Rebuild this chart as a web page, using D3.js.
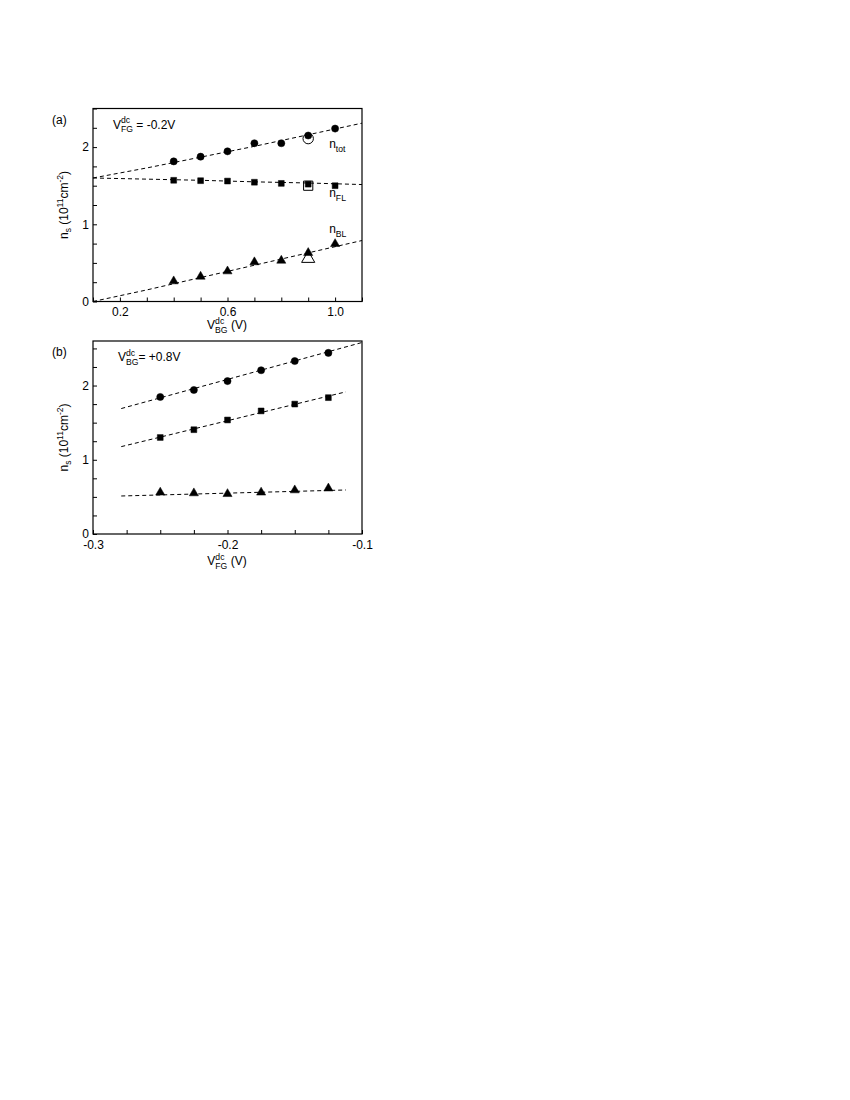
<!DOCTYPE html>
<html><head><meta charset="utf-8">
<script src="https://cdn.jsdelivr.net/npm/d3@7"></script>
<style>
body{margin:0;background:#fff}
text{font-family:"Liberation Sans",Arial,Helvetica,sans-serif;white-space:pre;fill:#000}
</style>
</head><body>
<svg id="c" width="850" height="1100"></svg>
<script>
// ---------- Panel (a) data : n_s vs V_BG (V_FG = -0.2 V) ----------
const vbgA   = [0.4, 0.5, 0.6, 0.7, 0.8, 0.9, 1.0];
const totA   = [1.815, 1.876, 1.945, 2.05, 2.05, 2.15, 2.24];
const flA    = [1.57, 1.565, 1.56, 1.545, 1.53, 1.52, 1.50];
const blA    = [0.263, 0.323, 0.392, 0.51, 0.53, 0.63, 0.746];
const openXA   = [0.9];
const openTotA = [2.11];
const openFLA  = [1.50];
const openBLA  = [0.556];
const fitXA   = [0.1, 0.3, 0.5, 0.7, 0.9, 1.1];
const fitTotA = [1.60, 1.73, 1.87, 2.01, 2.16, 2.31];
const fitFLA  = [1.60, 1.585, 1.57, 1.55, 1.535, 1.515];
const fitBLA  = [0.0, 0.15, 0.31, 0.47, 0.63, 0.79];
const xTicksA  = [0.1,0.2,0.3,0.4,0.5,0.6,0.7,0.8,0.9,1.0,1.1];
const xLabelsA = [0.2, 0.6, 1.0];
const yTicksA  = [0,0.25,0.5,0.75,1,1.25,1.5,1.75,2,2.25,2.5];
const yLabelsA = [0, 1, 2];

// ---------- Panel (b) data : n_s vs V_FG (V_BG = +0.8 V) ----------
const vfgB   = [-0.25, -0.225, -0.2, -0.175, -0.15, -0.125];
const totB   = [1.846, 1.94, 2.06, 2.206, 2.33, 2.44];
const flB    = [1.30, 1.405, 1.536, 1.658, 1.75, 1.837];
const blB    = [0.56, 0.55, 0.54, 0.56, 0.59, 0.615];
const fitXTotB = [-0.279, -0.1];
const fitTotB  = [1.69, 2.58];
const fitXB    = [-0.279, -0.112];
const fitFLB   = [1.177, 1.915];
const fitBLB   = [0.512, 0.593];
const xTicksB  = [-0.3,-0.275,-0.25,-0.225,-0.2,-0.175,-0.15,-0.125,-0.1];
const xLabelsB = [-0.3, -0.2, -0.1];
const yTicksB  = [0,0.25,0.5,0.75,1,1.25,1.5,1.75,2,2.25,2.5];
const yLabelsB = [0, 1, 2];

const svg = d3.select("#c");
const FS = 12, SS = 8.5, AS = 12;

// rich text helper: parts = [{t}, {sub,sup}]
function rich(g, parts, size) {
  let x = 0;
  const ss = size * 0.72;
  parts.forEach(p => {
    if (p.t !== undefined) {
      const el = g.append("text").attr("x", x).attr("y", 0).attr("font-size", size).attr("fill", "#000").text(p.t);
      x += el.node().getComputedTextLength();
    } else {
      let w = 0;
      if (p.sup !== undefined) {
        const e = g.append("text").attr("x", x).attr("y", -size*0.45).attr("font-size", ss).attr("fill", "#000").text(p.sup);
        w = Math.max(w, e.node().getComputedTextLength());
      }
      if (p.sub !== undefined) {
        const e = g.append("text").attr("x", x).attr("y", size*0.32).attr("font-size", ss).attr("fill", "#000").text(p.sub);
        w = Math.max(w, e.node().getComputedTextLength());
      }
      x += w;
    }
  });
  return x;
}

const fmt1 = d => d3.format(".1f")(d).replace("\u2212", "-");

function panel(cfg) {
  const x = d3.scaleLinear().domain(cfg.xd).range([93, 362]);
  const y = d3.scaleLinear().domain(cfg.yd).range(cfg.yr);
  const g = svg.append("g");

  // axes (inward ticks)
  const fmtX = d => cfg.xLabels.some(v => Math.abs(v - d) < 1e-9) ? fmt1(d) : "";
  const ax = g.append("g").attr("transform", `translate(0,${cfg.yr[0]})`)
    .call(d3.axisBottom(x).tickValues(cfg.xTicks).tickFormat(fmtX).tickSizeInner(-4).tickSizeOuter(0).tickPadding(6));
  ax.select(".domain").remove();
  ax.selectAll("text").attr("font-size", FS).attr("fill", "#000");
  const fmtY = d => cfg.yLabels.includes(d) ? String(d) : "";
  const ay = g.append("g").attr("transform", `translate(93,0)`)
    .call(d3.axisLeft(y).tickValues(cfg.yTicks).tickFormat(fmtY).tickSizeInner(-4).tickSizeOuter(0).tickPadding(4));
  ay.select(".domain").remove();
  ay.selectAll("text").attr("font-size", FS).attr("fill", "#000");
  svg.selectAll("g.tick line").attr("stroke", "#000").attr("stroke-width", 1);
  g.selectAll("g").attr("font-family", null);

  // frame
  g.append("rect").attr("x", 93).attr("y", cfg.yr[1]).attr("width", 269).attr("height", cfg.yr[0] - cfg.yr[1])
    .attr("fill", "none").attr("stroke", "#000").attr("stroke-width", 1.2);

  // fit lines
  const line = d3.line().x(d => x(d[0])).y(d => y(d[1]));
  cfg.fits.forEach(f => {
    g.append("path").datum(f[0].map((v, i) => [v, f[1][i]]))
      .attr("d", line).attr("fill", "none").attr("stroke", "#000")
      .attr("stroke-width", 1).attr("stroke-dasharray", "4,3");
  });

  // markers
  const sym = { circle: d3.symbolCircle, square: d3.symbolSquare, triangle: d3.symbolTriangle };
  cfg.series.forEach(s => {
    g.selectAll(null).data(s.xs.map((v, i) => [v, s.ys[i]])).join("path")
      .attr("transform", d => `translate(${x(d[0])},${y(d[1])})`)
      .attr("d", d3.symbol().type(sym[s.shape]).size(s.size))
      .attr("fill", s.open ? "none" : "#000").attr("stroke", "#000").attr("stroke-width", s.open ? 1 : 0.5);
  });

  // panel letter
  g.append("text").attr("x", 52).attr("y", cfg.yr[1] + 15).attr("font-size", FS).attr("fill", "#000").text(cfg.letter);

  // annotation
  const an = g.append("g").attr("transform", `translate(${cfg.annX},${cfg.yr[1] + 20})`);
  rich(an, cfg.ann, AS);

  // x label
  const xl = g.append("g");
  const w = rich(xl, cfg.xlab, FS);
  xl.attr("transform", `translate(${227 - w / 2},${cfg.xlabY})`);

  // y label
  g.append("text").attr("font-size", FS).attr("text-anchor", "middle").attr("fill", "#000")
    .attr("transform", `translate(68,${(cfg.yr[0] + cfg.yr[1]) / 2}) rotate(-90)`)
    .call(t => {
      t.append("tspan").text("n");
      t.append("tspan").attr("font-size", SS).attr("dy", 3).text("s");
      t.append("tspan").attr("dy", -3).text(" (10");
      t.append("tspan").attr("font-size", SS).attr("dy", -5).text("11");
      t.append("tspan").attr("dy", 5).text("cm");
      t.append("tspan").attr("font-size", SS).attr("dy", -5).text("-2");
      t.append("tspan").attr("dy", 5).text(")");
    });

  // series labels
  (cfg.tags || []).forEach(tg => {
    const tgG = g.append("g").attr("transform", `translate(${x(tg.x)},${y(tg.y)})`);
    rich(tgG, [{ t: "n" }, { sub: tg.sub }], FS);
  });
  return { x, y };
}

panel({
  letter: "(a)", xd: [0.1, 1.1], yd: [0, 2.5], yr: [301.5, 108.5],
  xTicks: xTicksA, xLabels: xLabelsA, yTicks: yTicksA, yLabels: yLabelsA,
  fits: [[fitXA, fitTotA], [fitXA, fitFLA], [fitXA, fitBLA]],
  series: [
    { xs: vbgA, ys: totA, shape: "circle", size: 40 },
    { xs: vbgA, ys: flA, shape: "square", size: 34 },
    { xs: vbgA, ys: blA, shape: "triangle", size: 36 },
    { xs: openXA, ys: openTotA, shape: "circle", size: 85, open: true },
    { xs: openXA, ys: openFLA, shape: "square", size: 85, open: true },
    { xs: openXA, ys: openBLA, shape: "triangle", size: 75, open: true }
  ],
  annX: 113,
  ann: [{ t: "V" }, { sub: "FG", sup: "dc" }, { t: " = -0.2V" }],
  xlab: [{ t: "V" }, { sub: "BG", sup: "dc" }, { t: " (V)" }],
  xlabY: 329,
  tags: [
    { x: 0.978, y: 1.99, sub: "tot" },
    { x: 0.978, y: 1.35, sub: "FL" },
    { x: 0.978, y: 0.885, sub: "BL" }
  ]
});

panel({
  letter: "(b)", xd: [-0.3, -0.1], yd: [0, 2.6], yr: [534, 341],
  xTicks: xTicksB, xLabels: xLabelsB, yTicks: yTicksB, yLabels: yLabelsB,
  fits: [[fitXTotB, fitTotB], [fitXB, fitFLB], [fitXB, fitBLB]],
  series: [
    { xs: vfgB, ys: totB, shape: "circle", size: 40 },
    { xs: vfgB, ys: flB, shape: "square", size: 34 },
    { xs: vfgB, ys: blB, shape: "triangle", size: 36 }
  ],
  annX: 118,
  ann: [{ t: "V" }, { sub: "BG", sup: "dc" }, { t: "= +0.8V" }],
  xlab: [{ t: "V" }, { sub: "FG", sup: "dc" }, { t: " (V)" }],
  xlabY: 565
});
</script>
</body></html>
